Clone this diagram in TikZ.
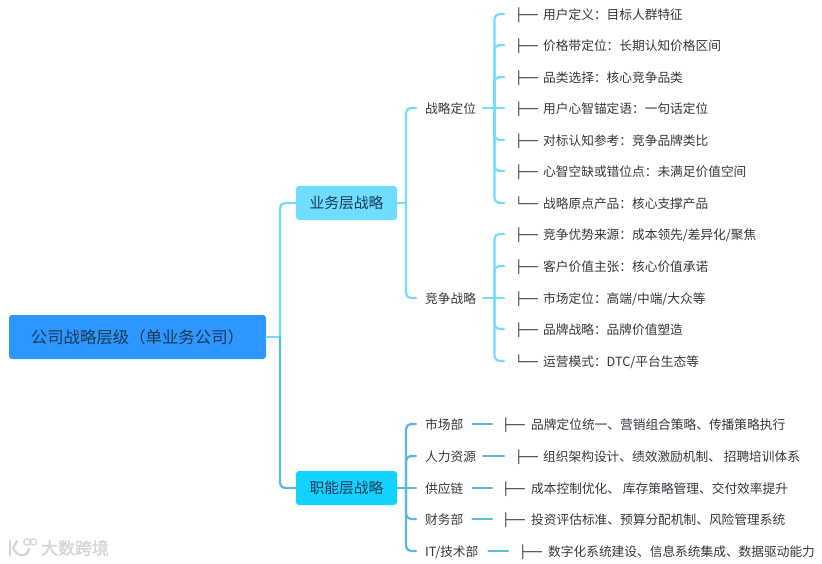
\documentclass[tikz,border=0pt]{standalone}
\usepackage{fontspec}
\setmainfont{Noto Sans CJK SC}
\newfontfamily\boxf{DejaVu Sans Mono}
\newfontfamily\wmfont[FakeBold=1.5]{Noto Sans CJK SC}
\definecolor{txt}{HTML}{33383E}
\definecolor{boxtxt}{HTML}{1C3A57}
\definecolor{rootc}{HTML}{2E96FF}
\definecolor{bizc}{HTML}{6EDDFF}
\definecolor{funcc}{HTML}{12D2FF}
\definecolor{lightl}{HTML}{74DCF8}
\definecolor{darkl}{HTML}{5BB9DE}
\definecolor{wm}{HTML}{D4D4D4}
\newcommand{\teeb}[1]{\makebox[#1][l]{\boxf\fontsize{12.5}{14}\selectfont ├──}}
\newcommand{\lastb}[1]{\makebox[#1][l]{\boxf\fontsize{12.5}{14}\selectfont └──}}
\tikzset{
  x=1pt,y=-1pt,
  rootbox/.style={rectangle,rounded corners=3pt,fill=rootc,text=boxtxt,font=\fontsize{16.4}{18}\selectfont,minimum width=257pt,minimum height=44pt,inner sep=0pt},
  bizbox/.style={rectangle,rounded corners=3pt,fill=bizc,text=boxtxt,font=\fontsize{14.8}{18}\selectfont,minimum width=101pt,minimum height=34pt,inner sep=0pt},
  funcbox/.style={bizbox,fill=funcc},
  lab/.style={inner sep=0pt,anchor=west,text=txt,font=\fontsize{12.7}{15}\selectfont,text height=13pt,text depth=2pt},
  conn/.style={line width=2.2pt,rounded corners=5pt,line cap=round},
  up/.style={conn,draw=lightl},
  low/.style={conn,draw=darkl},
}
\begin{document}
\begin{tikzpicture}
\useasboundingbox (0,0) rectangle (822,564);
\node[rootbox] (root) at (137.5,337) {公司战略层级（单业务公司）};
\node[bizbox] (biz) at (346.5,203) {业务层战略};
\node[funcbox] (func) at (346.5,488) {职能层战略};
\node[lab] (s1) at (425,108) {战略定位};
\node[lab] (s2) at (425,298) {竞争战略};
\node[lab] (f1) at (425,424) {市场部};
\node[lab] (f2) at (425,456) {人力资源};
\node[lab] (f3) at (425,488) {供应链};
\node[lab] (f4) at (425,519) {财务部};
\node[lab] (f5) at (425,551) {IT/技术部};
% leaves
\node[lab] (a1) at (515,14) {\teeb{28pt}用户定义：目标人群特征};
\node[lab] (a2) at (515,45) {\teeb{28pt}价格带定位：长期认知价格区间};
\node[lab] (a3) at (515,77) {\teeb{28pt}品类选择：核心竞争品类};
\node[lab] (a4) at (515,108) {\teeb{28pt}用户心智锚定语：一句话定位};
\node[lab] (a5) at (515,140) {\teeb{28pt}对标认知参考：竞争品牌类比};
\node[lab] (a6) at (515,171) {\teeb{28pt}心智空缺或错位点：未满足价值空间};
\node[lab] (a7) at (515,203) {\lastb{28pt}战略原点产品：核心支撑产品};
\node[lab] (b1) at (515,234) {\teeb{28pt}竞争优势来源：成本领先/差异化/聚焦};
\node[lab] (b2) at (515,266) {\teeb{28pt}客户价值主张：核心价值承诺};
\node[lab] (b3) at (515,298) {\teeb{28pt}市场定位：高端/中端/大众等};
\node[lab] (b4) at (515,329) {\teeb{28pt}品牌战略：品牌价值塑造};
\node[lab] (b5) at (515,361) {\lastb{28pt}运营模式：DTC/平台生态等};
\node[lab] (c1) at (502,424) {\teeb{29pt}品牌定位统一、营销组合策略、传播策略执行};
\node[lab] (c2) at (515,456) {\teeb{28pt}组织架构设计、绩效激励机制、 招聘培训体系};
\node[lab] (c3) at (502,488) {\teeb{29pt}成本控制优化、 库存策略管理、交付效率提升};
\node[lab] (c4) at (502,519) {\teeb{29pt}投资评估标准、预算分配机制、风险管理系统};
\node[lab] (c5) at (519,551) {\teeb{29pt}数字化系统建设、信息系统集成、数据驱动能力};
% hubs
\coordinate (t0) at (280,337);
\coordinate (t1) at (406,203);
\coordinate (t2) at (406,488);
\coordinate (h1) at (494.5,108);
\coordinate (h2) at (494.5,298);
% trunk
\draw[up] (root.east) -- (t0);
\draw[up] (t0) |- (biz.west);
\draw[low] (t0) |- (func.west);
% business
\draw[up] (biz.east) -- (t1);
\draw[up] (t1) |- ([xshift=-9pt]s1.west);
\draw[up] (t1) |- ([xshift=-9pt]s2.west);
\draw[up] ([xshift=7pt]s1.east) -- ([xshift=-11pt]a4.west);
\draw[up] ([xshift=7pt]s2.east) -- ([xshift=-11pt]b3.west);
\foreach \n in {a1,a2,a3,a5,a6,a7}{\draw[up] (h1) |- ([xshift=-11pt]\n.west);}
\foreach \n in {b1,b2,b4,b5}{\draw[up] (h2) |- ([xshift=-11pt]\n.west);}
% functional
\draw[low] (func.east) -- (t2) -- ([xshift=-9pt]f3.west);
\foreach \n in {f1,f2,f4,f5}{\draw[low] (t2) |- ([xshift=-9pt]\n.west);}
\draw[low] ([xshift=9pt]f1.east) -- ([xshift=-10pt]c1.west);
\draw[low] ([xshift=7pt]f2.east) -- ([xshift=-11pt]c2.west);
\draw[low] ([xshift=9pt]f3.east) -- ([xshift=-10pt]c3.west);
\draw[low] ([xshift=9pt]f4.east) -- ([xshift=-10pt]c4.west);
\draw[low] ([xshift=10pt]f5.east) -- ([xshift=-11pt]c5.west);
% watermark
\node[inner sep=0pt,anchor=west,text=wm,font=\wmfont\fontsize{16.9}{18}\selectfont] (wmt) at (41,548) {大数跨境};
\draw[wm,line width=2.2pt,line cap=round] (10,541) -- (10,555);
\draw[wm,line width=2.2pt,line cap=round] (17,541) -- (13,548) .. controls (17,557) and (27,558) .. (29,549);
\draw[wm,line width=1.2pt] (27,542) circle (3.2pt) (33.5,542) circle (3.2pt);
\end{tikzpicture}
\end{document}
